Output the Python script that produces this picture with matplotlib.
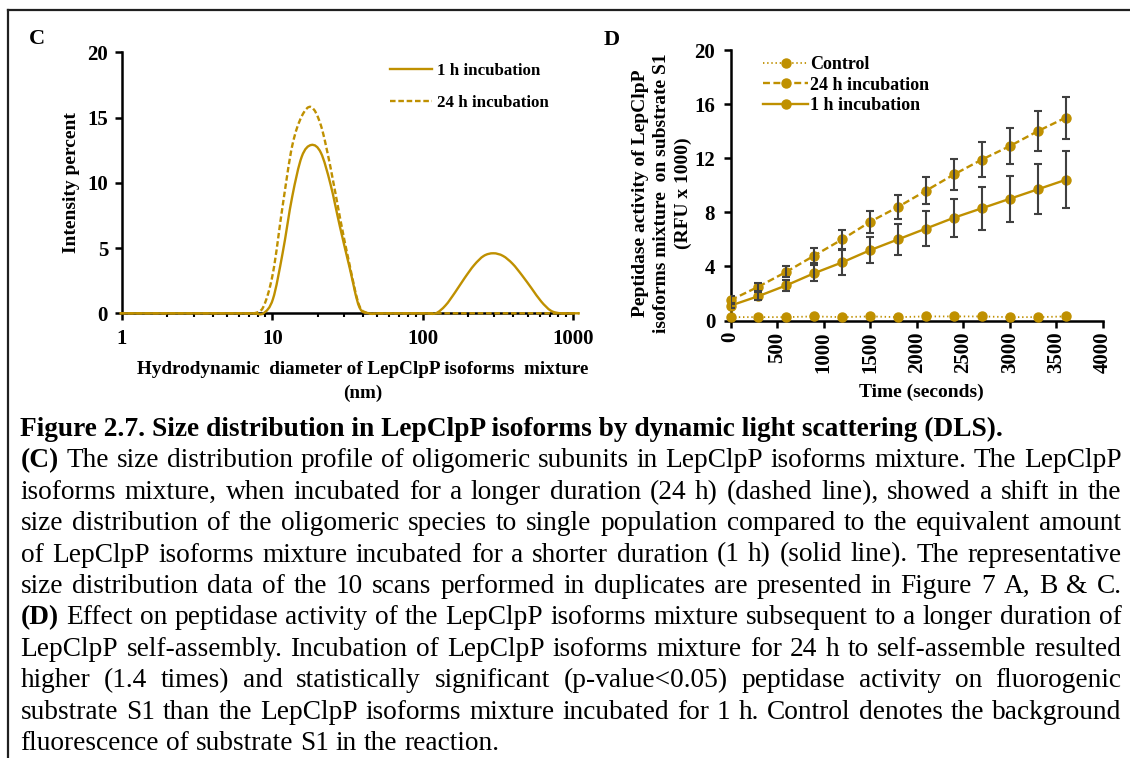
import matplotlib as mpl
mpl.use('Agg')
import matplotlib.pyplot as plt
import numpy as np
from matplotlib.lines import Line2D
from matplotlib.path import Path
from matplotlib.patches import PathPatch
from matplotlib.ticker import LogLocator, NullFormatter

plt.rcParams['font.family'] = ['Liberation Serif', 'DejaVu Serif']
plt.rcParams['font.weight'] = 'bold'
plt.rcParams['lines.scale_dashes'] = False

gold = '#BF9000'
grey = '#404040'

# Panel C: DLS size distribution (nm vs intensity %)
size_nm = [0.9649, 1.117, 1.294, 1.499, 1.736, 2.010, 2.328, 2.696, 3.122, 3.615,
           4.187, 4.849, 5.615, 6.503, 7.531, 8.721, 10.10, 11.70, 13.54, 15.69,
           18.17, 21.04, 24.36, 28.21, 32.67, 37.84, 43.82, 50.75, 58.77, 68.06,
           78.82, 91.28, 105.7, 122.4, 141.8, 164.2, 190.1, 220.2, 255.0, 295.3,
           342.0, 396.1, 458.7, 531.2, 615.1, 712.4, 825.0, 955.4, 1106]
int_1h = [0, 0, 0, 0, 0, 0, 0, 0, 0, 0,
          0, 0, 0, 0, 0, 0, 1.1, 4.6, 8.9, 12.0,
          12.9, 12.3, 9.9, 6.6, 3.5, 0.5, 0, 0, 0, 0,
          0, 0, 0, 0, 0.6, 1.6, 2.7, 3.7, 4.4, 4.6,
          4.4, 3.8, 2.9, 1.9, 0.9, 0.2, 0, 0, 0]
int_24h = [0, 0, 0, 0, 0, 0, 0, 0, 0, 0,
           0, 0, 0, 0, 0, 0.5, 3.1, 8.2, 12.8, 15.1,
           15.8, 14.4, 11.2, 7.3, 3.7, 0.6, 0, 0, 0, 0,
           0, 0, 0, 0, 0, 0, 0, 0, 0, 0,
           0, 0, 0, 0, 0, 0, 0, 0, 0]

# Panel D: peptidase activity (RFU x 1000)
time_s = [0, 300, 600, 900, 1200, 1500, 1800, 2100, 2400, 2700, 3000, 3300, 3600]
control = [0.25, 0.25, 0.25, 0.3, 0.25, 0.3, 0.25, 0.3, 0.3, 0.3, 0.25, 0.25, 0.3]
act_24h = [1.5, 2.5, 3.6, 4.8, 6.0, 7.3, 8.4, 9.6, 10.8, 11.9, 12.9, 14.0, 15.0]
err_24h = [0.3, 0.3, 0.4, 0.55, 0.7, 0.8, 0.9, 1.0, 1.15, 1.3, 1.35, 1.5, 1.55]
act_1h = [1.1, 1.8, 2.6, 3.5, 4.3, 5.2, 6.0, 6.8, 7.6, 8.3, 9.0, 9.7, 10.4]
err_1h = [0.2, 0.3, 0.4, 0.6, 0.9, 0.95, 1.15, 1.3, 1.4, 1.6, 1.7, 1.85, 2.1]

caption_title = 'Figure 2.7. Size distribution in LepClpP isoforms by dynamic light scattering (DLS).'
caption_lines = [
    ('(C)', 'The size distribution profile of oligomeric subunits in LepClpP isoforms mixture. The LepClpP', True),
    ('', 'isoforms mixture, when incubated for a longer duration (24 h) (dashed line), showed a shift in the', True),
    ('', 'size distribution of the oligomeric species to single population compared to the equivalent amount', True),
    ('', 'of LepClpP isoforms mixture incubated for a shorter duration (1 h) (solid line). The representative', True),
    ('', 'size distribution data of the 10 scans performed in duplicates are presented in Figure 7 A, B & C.', True),
    ('(D)', 'Effect on peptidase activity of the LepClpP isoforms mixture subsequent to a longer duration of', True),
    ('', 'LepClpP self-assembly. Incubation of LepClpP isoforms mixture for 24 h to self-assemble resulted', True),
    ('', 'higher (1.4 times) and statistically significant (p-value<0.05) peptidase activity on fluorogenic', True),
    ('', 'substrate S1 than the LepClpP isoforms mixture incubated for 1 h. Control denotes the background', True),
    ('', 'fluorescence of substrate S1 in the reaction.', False),
]

W, H = 1130, 758
fig = plt.figure(figsize=(W / 100, H / 100), dpi=100)


def fx(x):
    return x / W


def fy(y):
    return 1 - y / H


def style_axes(ax):
    for s in ['top', 'right']:
        ax.spines[s].set_visible(False)
    for s in ['left', 'bottom']:
        ax.spines[s].set_linewidth(1.8)
    ax.tick_params(which='major', direction='out', length=5, width=1.8,
                   labelsize=15, pad=5)
    ax.tick_params(which='minor', direction='out', length=3, width=1.5)


def smooth_path(xs, ys):
    # Excel-like smoothed line: cubic Bezier through the points, built in log-x space
    lx = np.log10(xs)
    y = np.asarray(ys, float)
    n = len(lx)
    verts = [(lx[0], y[0])]
    codes = [Path.MOVETO]
    for i in range(n - 1):
        i0, i3 = max(i - 1, 0), min(i + 2, n - 1)
        verts.append((lx[i] + (lx[i + 1] - lx[i0]) / 6, y[i] + (y[i + 1] - y[i0]) / 6))
        verts.append((lx[i + 1] - (lx[i3] - lx[i]) / 6, y[i + 1] - (y[i3] - y[i]) / 6))
        verts.append((lx[i + 1], y[i + 1]))
        codes += [Path.CURVE4] * 3
    v = np.array(verts)
    v[:, 0] = 10 ** v[:, 0]
    return Path(v, codes)


# ---- panel C ----
axC = fig.add_axes([fx(122), fy(313.3), fx(573 - 122), (313.3 - 52.3) / H])
style_axes(axC)
axC.set_xscale('log')
axC.set_xlim(1, 1000)
axC.set_ylim(0, 20)
axC.add_patch(PathPatch(smooth_path(size_nm, int_1h), fill=False, edgecolor=gold,
                        lw=1.7, clip_on=False, zorder=3))
axC.add_patch(PathPatch(smooth_path(size_nm, int_24h), fill=False, edgecolor=gold,
                        lw=1.7, linestyle=(0, (4, 2)), clip_on=False, zorder=3))
axC.set_yticks([0, 5, 10, 15, 20])
axC.set_xticks([1, 10, 100, 1000])
axC.set_xticklabels(['1', '10', '100', '1000'])
axC.xaxis.set_minor_locator(LogLocator(base=10, subs=range(2, 10)))
axC.xaxis.set_minor_formatter(NullFormatter())
axC.tick_params(axis='x', pad=6)
handles_C = [Line2D([], [], color=gold, lw=1.7),
             Line2D([], [], color=gold, lw=1.7, dashes=(4, 2))]
axC.legend(handles_C, ['1 h incubation', '24 h incubation'],
           loc='upper left', bbox_to_anchor=(fx(390), fy(63)),
           bbox_transform=fig.transFigure, frameon=False, fontsize=12.2,
           handlelength=2.45, handletextpad=0.3, labelspacing=0.95,
           borderpad=0, borderaxespad=0)
fig.text(fx(71), fy(183), 'Intensity percent', rotation=90, fontsize=14,
         ha='center', va='center')
fig.text(fx(363), fy(370), 'Hydrodynamic  diameter of LepClpP isoforms  mixture',
         fontsize=13.8, ha='center', va='center')
fig.text(fx(363), fy(393), '(nm)', fontsize=13.8, ha='center', va='center')
fig.text(fx(36.7), fy(39), 'C', fontsize=16, ha='center', va='center')

# ---- panel D ----
axD = fig.add_axes([fx(730.5), fy(320.5), fx(1103 - 730.5), (320.5 - 50) / H])
style_axes(axD)
axD.plot(time_s, control, color=gold, lw=1.3, dashes=(1, 2), marker='o', ms=6.5,
         clip_on=False, label='Control', zorder=3)
axD.plot(time_s, act_24h, color=gold, lw=1.7, dashes=(5, 2.5), marker='o', ms=6.5,
         clip_on=False, label='24 h incubation', zorder=3)
axD.plot(time_s, act_1h, color=gold, lw=1.7, marker='o', ms=6.5,
         clip_on=False, label='1 h incubation', zorder=3)
axD.errorbar(time_s, act_24h, yerr=err_24h, fmt='none', ecolor=grey, elinewidth=1.5,
             capsize=3, capthick=1.5, zorder=4)
axD.errorbar(time_s, act_1h, yerr=err_1h, fmt='none', ecolor=grey, elinewidth=1.5,
             capsize=3, capthick=1.5, zorder=4)
axD.set_xlim(0, 4000)
axD.set_ylim(0, 20)
axD.set_xticks(range(0, 4001, 500))
axD.set_yticks([0, 4, 8, 12, 16, 20])
axD.tick_params(axis='x', labelrotation=90, pad=3)
axD.tick_params(axis='y', pad=6)
axD.legend(loc='upper left', bbox_to_anchor=(fx(763), fy(56)),
           bbox_transform=fig.transFigure, frameon=False, fontsize=13,
           handlelength=2.5, handletextpad=0.1, labelspacing=0.2,
           borderpad=0, borderaxespad=0)
fig.text(fx(662), fy(193),
         'Peptidase activity of LepClpP\nisoforms mixture  on substrate S1\n(RFU x 1000)',
         rotation=90, fontsize=14, ha='center', va='center', multialignment='center',
         linespacing=1.34)
fig.text(fx(921), fy(392), 'Time (seconds)', fontsize=14, ha='center', va='center')
fig.text(fx(612), fy(40), 'D', fontsize=16, ha='center', va='center')

# ---- frame ----
fig.add_artist(Line2D([fx(7.5), 1], [fy(10), fy(10)], color='#202020', lw=1.6))
fig.add_artist(Line2D([fx(7.5), fx(7.5)], [fy(10), 0], color='#202020', lw=1.6))

# ---- caption, justified ----
renderer = fig.canvas.get_renderer()
left, right = 20.5, 1121.5
probe = fig.text(0, 0, caption_title, fontsize=18, weight='bold')
cap_fs = 18 * (1004 - left) / probe.get_window_extent(renderer).width
probe.remove()
fig.text(fx(left), fy(436), caption_title, fontsize=cap_fs, weight='bold', va='baseline')

space = fig.text(0, 0, 'a a', fontsize=cap_fs, weight='normal')
sw = space.get_window_extent(renderer).width
space.set_text('aa')
sw -= space.get_window_extent(renderer).width
space.remove()

for i, (bold, rest, justify) in enumerate(caption_lines):
    y = 436 + (i + 1) * 31.4
    words = ([(bold, 'bold')] if bold else []) + [(w, 'normal') for w in rest.split(' ')]
    texts = [fig.text(0, fy(y), w, fontsize=cap_fs, weight=wt, va='baseline')
             for w, wt in words]
    widths = [t.get_window_extent(renderer).width for t in texts]
    gap = (right - left - sum(widths)) / (len(texts) - 1) if justify else sw
    x = left
    for t, w in zip(texts, widths):
        t.set_x(fx(x))
        x += w + gap

fig.savefig('out.png', dpi=100)
